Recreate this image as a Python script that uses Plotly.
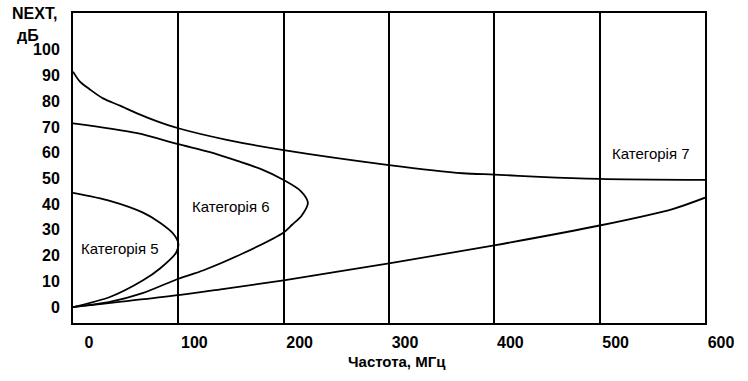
import plotly.graph_objects as go

# ---- data ----
cat5_freq = [0, 35, 66.5, 82.6, 95, 100, 98, 82.6, 66.5, 35, 0]
cat5_db = [44.4, 41.3, 36.7, 32.8, 28.6, 24.7, 21.2, 15, 10.4, 3.9, 0]

cat6_freq = [0, 61, 100, 130, 156, 178, 200, 216, 223, 217, 208, 200, 161, 124, 100, 66, 35, 0]
cat6_db = [71.4, 67.6, 63.3, 60.2, 56.8, 53.7, 49.4, 45.2, 40.5, 35.5, 32, 29, 20.8, 14.3, 11, 5.4, 2, 0]

cat7_upper_freq = [0, 6.6, 16, 28.5, 44.6, 60.8, 80, 100, 146, 200, 300, 370, 400, 443, 500, 600]
cat7_upper_db = [91.5, 87.6, 84.6, 81.1, 78.3, 75.3, 72.2, 69.5, 65, 61, 55.2, 52, 51.5, 50.6, 49.8, 49.4]

cat7_lower_freq = [0, 100, 142, 200, 300, 400, 500, 570, 600]
cat7_lower_db = [0, 4.6, 7, 10.4, 17, 24, 31.7, 38.2, 42.5]

x_ticks = [0, 100, 200, 300, 400, 500, 600]
y_ticks = [0, 10, 20, 30, 40, 50, 60, 70, 80, 90, 100]

labels = ["Категорія 5", "Категорія 6", "Категорія 7"]
label_freq = [44.6, 150, 549]
label_db = [22.8, 39, 59.5]

FONT = "Liberation Sans, Arial, sans-serif"

fig = go.Figure()
line_style = dict(color="black", width=1.8, shape="spline", smoothing=0.8)
for fx, fy in [(cat5_freq, cat5_db), (cat6_freq, cat6_db),
               (cat7_upper_freq, cat7_upper_db), (cat7_lower_freq, cat7_lower_db)]:
    fig.add_trace(go.Scatter(x=fx, y=fy, mode="lines", line=line_style,
                             showlegend=False, hoverinfo="skip"))

for t, lx, ly in zip(labels, label_freq, label_db):
    fig.add_annotation(x=lx, y=ly, text=t, showarrow=False,
                       font=dict(family=FONT, size=15, color="black"),
                       xanchor="center", yanchor="middle")

fig.add_annotation(xref="paper", yref="paper", x=0.5134, y=-0.125, text="<b>Частота, МГц</b>",
                   showarrow=False, xanchor="center", yanchor="middle",
                   font=dict(family=FONT, size=15, color="black"))
fig.add_annotation(xref="paper", yref="paper", x=-0.0997, y=0.997, text="<b>NEXT,</b>",
                   showarrow=False, xanchor="left", yanchor="middle",
                   font=dict(family=FONT, size=16, color="black"))
fig.add_annotation(xref="paper", yref="paper", x=-0.0918, y=0.926, text="<b>дБ</b>",
                   showarrow=False, xanchor="left", yanchor="middle",
                   font=dict(family=FONT, size=16, color="black"))

fig.update_layout(
    width=748, height=381,
    margin=dict(l=73, r=43, t=11, b=58),
    paper_bgcolor="white", plot_bgcolor="white",
    font=dict(family=FONT, color="black"),
    xaxis=dict(range=[0, 600], tickvals=x_ticks, ticktext=[f"<b>{v}</b>" for v in x_ticks],
               showgrid=True, gridcolor="black", gridwidth=2,
               showline=True, linecolor="black", linewidth=2, mirror=True,
               ticks="", ticklabelshift=16, ticklabelstandoff=4,
               tickfont=dict(family=FONT, size=16, color="black"), zeroline=False),
    yaxis=dict(range=[-6.2, 114.3], tickvals=y_ticks, ticktext=[f"<b>{v}</b>" for v in y_ticks],
               showgrid=False, showline=True, linecolor="black", linewidth=2, mirror=True,
               ticks="", ticklabelstandoff=8,
               tickfont=dict(family=FONT, size=16, color="black"), zeroline=False),
)

fig.write_html("out.html",
               config={"displayModeBar": False, "staticPlot": True},
               post_script="document.body.style.margin='0';document.body.style.overflow='hidden';")
